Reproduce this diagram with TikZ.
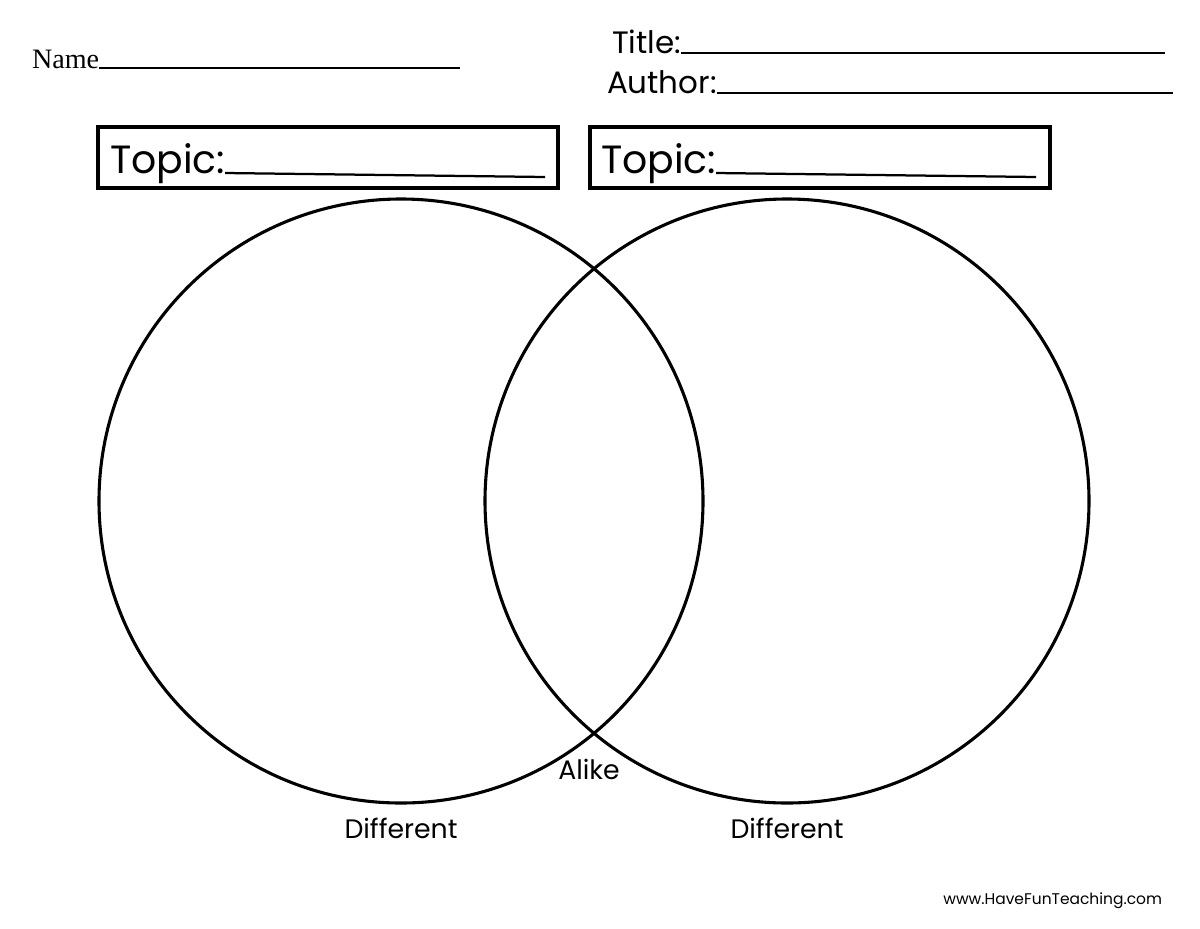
\documentclass[tikz,border=0pt]{standalone}
\usepackage{fontspec}
\setmainfont{Poppins}
\newfontfamily\namefont{Liberation Serif}
\begin{document}
\begin{tikzpicture}[x=0.025cm,y=-0.025cm,
  line/.style={line width=1.6pt},
  ring/.style={line width=2.2pt},
  box/.style={line width=2.2pt},
  txt/.style={inner sep=0pt, outer sep=0pt}]
\useasboundingbox (0,0) rectangle (1200,928);
% header
\node[txt, anchor=base west, font=\namefont\fontsize{20}{20}\selectfont] (name) at (32,68) {Name};
\draw[line] (name.base east) -- (460,68);
\node[txt, anchor=base west, font=\fontsize{22}{22}\selectfont] (title) at (612,53) {Title:};
\draw[line] (title.base east) -- (1165,53);
\node[txt, anchor=base west, font=\fontsize{22}{22}\selectfont] (author) at (607,93) {Author:};
\draw[line] (author.base east) -- (1173,93);
% topic boxes
\draw[box] (98,127) rectangle (558,188);
\draw[box] (590,127) rectangle (1050,188);
\node[txt, anchor=base west, font=\fontsize{28}{28}\selectfont] (topicA) at (110,173) {Topic:};
\draw[line] (topicA.base east) -- (545,177);
\node[txt, anchor=base west, font=\fontsize{28}{28}\selectfont] (topicB) at (601,173) {Topic:};
\draw[line] (topicB.base east) -- (1036,177);
% circles
\draw[ring] (401,501) circle [radius=302];
\draw[ring] (787,501) circle [radius=302];
% labels
\node[txt, anchor=base, font=\fontsize{19}{19}\selectfont] (alike) at (589,779) {Alike};
\node[txt, anchor=base, font=\fontsize{19}{19}\selectfont] (diffA) at (401,838) {Different};
\node[txt, anchor=base, font=\fontsize{19}{19}\selectfont] (diffB) at (787,838) {Different};
\node[txt, anchor=base east, font=\fontsize{11}{11}\selectfont] (web) at (1162,904) {www.HaveFunTeaching.com};
\end{tikzpicture}
\end{document}
